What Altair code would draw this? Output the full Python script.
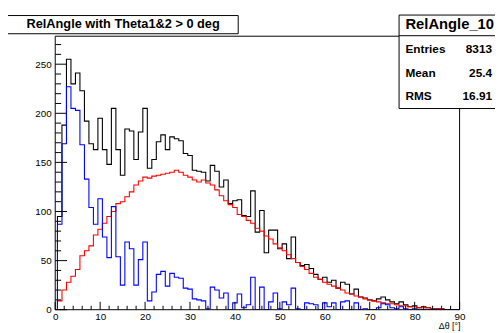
import altair as alt
import pandas as pd

# ---- data (bins of 1 degree, centred on integer angles) ----
angles = list(range(91))

total_counts = [
    0, 95, 188, 255, 230, 241, 223, 192, 169, 163,
    195, 163, 148, 205, 163, 137, 184, 182, 153, 181,
    205, 144, 153, 171, 178, 163, 176, 174, 172, 159,
    157, 142, 141, 140, 131, 147, 141, 125, 132, 108,
    111, 112, 96, 95, 121, 79, 101, 58, 81, 81,
    62, 67, 52, 74, 48, 45, 46, 42, 36, 31,
    33, 28, 30, 22, 28, 26, 16, 21, 13, 12,
    10, 9, 11, 13, 10, 8, 6, 8, 5, 3,
    4, 2, 3, 2, 1, 1, 1, 0, 0, 0,
    0]

red_counts = [
    0, 9, 20, 28, 34, 41, 55, 60, 65, 76,
    82, 88, 95, 100, 108, 110, 115, 120, 127, 131,
    135, 134, 136, 137, 138, 139, 140, 142, 140, 137,
    135, 132, 130, 132, 129, 127, 122, 116, 111, 107,
    104, 97, 95, 91, 88, 83, 80, 75, 72, 67,
    63, 60, 56, 52, 48, 44, 41, 37, 33, 31,
    28, 26, 24, 22, 20, 17, 16, 14, 13, 11,
    10, 9, 8, 7, 6, 6, 5, 4, 4, 3,
    3, 2, 2, 2, 1, 1, 1, 0, 0, 0,
    0]

blue_counts = [
    0, 87, 169, 227, 205, 203, 168, 133, 104, 87,
    113, 74, 53, 105, 54, 25, 69, 62, 25, 51,
    69, 9, 18, 36, 39, 24, 37, 33, 32, 22,
    21, 11, 10, 9, 1, 23, 20, 12, 17, 0,
    7, 16, 2, 5, 33, 0, 23, 0, 8, 17,
    1, 8, 5, 22, 1, 0, 7, 6, 5, 0,
    7, 3, 7, 0, 8, 9, 0, 7, 0, 1,
    0, 0, 2, 6, 5, 2, 1, 3, 1, 0,
    1, 0, 0, 0, 0, 0, 0, 0, 0, 0,
    0]

x_major = list(range(0, 91, 10))
x_minor = [v for v in range(0, 91, 2) if v % 10]
y_major = [0, 50, 100, 150, 200, 250]
y_minor = [v for v in range(0, 280, 10) if v % 50]

title_text = "RelAngle with Theta1&2 > 0 deg"
stats_title = "RelAngle_10"
stats_names = ["Entries", "Mean", "RMS"]
stats_values = ["8313", "25.4", "16.91"]
x_title = "Δθ [°]"

# ---- layout ----
W, H = 411, 278
FONT = "Liberation Sans"

xs = alt.Scale(domain=[0, 90], nice=False, zero=False)
ys = alt.Scale(domain=[0, 278.5], nice=False, zero=True)

x_axis = alt.Axis(values=x_major, ticks=False, tickSize=0, domain=False, grid=False,
                  labelFont=FONT, labelFontSize=10, labelColor="#000000",
                  labelPadding=2, labelFlush=False, labelOverlap=False, title=None, format="d")
y_axis = alt.Axis(values=y_major, ticks=False, tickSize=0, domain=False, grid=False,
                  labelFont=FONT, labelFontSize=10, labelColor="#000000",
                  labelPadding=4, labelFlush=False, labelOverlap=False, title=None, format="d")


def hist_layer(values, color):
    df = pd.DataFrame({"angle": angles, "count": values})
    return alt.Chart(df).mark_line(
        interpolate="step", color=color, strokeWidth=1.1, clip=True
    ).encode(
        x=alt.X("angle:Q", scale=xs, axis=x_axis),
        y=alt.Y("count:Q", scale=ys, axis=y_axis),
    )


def xtick_layer(vals, length):
    df = pd.DataFrame({"angle": vals})
    return alt.Chart(df).mark_rule(color="#000000", strokeWidth=1).encode(
        x=alt.X("angle:Q", scale=xs, axis=x_axis),
        y=alt.value(H), y2=alt.value(H - length),
    )


def ytick_layer(vals, length):
    df = pd.DataFrame({"count": vals})
    return alt.Chart(df).mark_rule(color="#000000", strokeWidth=1).encode(
        y=alt.Y("count:Q", scale=ys, axis=y_axis),
        x=alt.value(0), x2=alt.value(length),
    )


def label(text, x, y, size, align="left", weight="normal"):
    return alt.Chart(pd.DataFrame({"t": [text]})).mark_text(
        font=FONT, fontSize=size, fontWeight=weight, color="#000000",
        align=align, baseline="middle").encode(
        x=alt.value(x), y=alt.value(y), text="t:N")


one = pd.DataFrame({"a": [0]})

frame = alt.Chart(one).mark_rect(fillOpacity=0, stroke="#000000", strokeWidth=1).encode(
    x=alt.value(0), x2=alt.value(W), y=alt.value(0), y2=alt.value(H))

title_box = alt.Chart(one).mark_rect(fill="#ffffff", stroke="#000000", strokeWidth=1).encode(
    x=alt.value(-48.5), x2=alt.value(186), y=alt.value(-21), y2=alt.value(-2.5))

stats_box = alt.Chart(one).mark_rect(fill="#ffffff", stroke="#000000", strokeWidth=1).encode(
    x=alt.value(349.5), x2=alt.value(470), y=alt.value(-21.5), y2=alt.value(73.5))
stats_line = alt.Chart(one).mark_rule(color="#000000", strokeWidth=1).encode(
    x=alt.value(349.5), x2=alt.value(470), y=alt.value(-0.5))

row_y = [13, 37, 61]
stats_layers = []
for name, val, yy in zip(stats_names, stats_values, row_y):
    stats_layers.append(label(name, 356, yy, 12, "left", "bold"))
    stats_layers.append(label(val, 444, yy, 12, "right", "bold"))

chart = alt.layer(
    hist_layer(total_counts, "#000000"),
    hist_layer(red_counts, "#ff0000"),
    hist_layer(blue_counts, "#0000ff"),
    xtick_layer(x_major, 8),
    xtick_layer(x_minor, 4),
    ytick_layer(y_major, 12),
    ytick_layer(y_minor, 6),
    frame,
    title_box,
    label(title_text, 69, -12.5, 13, "center", "bold"),
    stats_box, stats_line,
    label(stats_title, 356, -12, 15, "left", "bold"),
    *stats_layers,
    label(x_title, 412, 295, 9, "right"),
).properties(
    width=W, height=H,
    padding={"left": 48, "top": 26, "right": 36, "bottom": 21},
    autosize=alt.AutoSizeParams(type="none"),
    background="#ffffff",
).configure_view(stroke=None)

chart.save("out.html", embed_options={"renderer": "svg", "actions": False})
